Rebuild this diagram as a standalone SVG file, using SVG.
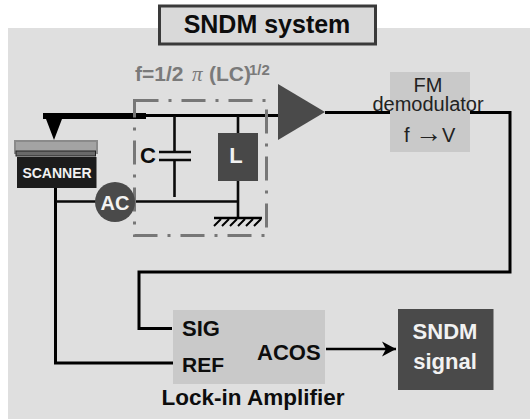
<svg xmlns="http://www.w3.org/2000/svg" width="530" height="419" viewBox="0 0 530 419">
<style>
text{font-family:"Liberation Sans",Arial,sans-serif;font-weight:bold;fill:#0d0d0d}
.w{fill:#f2f2f2}
.n{font-weight:normal;fill:#222}
.line{fill:none;stroke:#000;stroke-width:3}
.thin{fill:none;stroke:#0a0a0a;stroke-width:2.6}
</style>
<defs><marker id="ah" markerUnits="userSpaceOnUse" markerWidth="16" markerHeight="16" refX="14" refY="8" orient="auto"><path d="M0 0.500L14 8L0 15.500L4 8Z" fill="#000"/></marker></defs>
<rect x="0" y="0" width="530" height="419" fill="#fff"/>
<rect x="8" y="28" width="522" height="391" fill="#dfdfdf"/>
<g id="title"><rect x="159.500" y="6" width="216" height="38" fill="#d9d9d9" stroke="#3a3a3a" stroke-width="3"/><text x="267" y="33" font-size="25" text-anchor="middle">SNDM system</text></g>
<g id="formula"><text y="81" font-size="21" style="fill:#7a7a7a"><tspan x="135">f=1/2</tspan><tspan x="192" font-family="Liberation Serif" font-weight="normal" font-style="italic">π</tspan><tspan x="209">(LC)</tspan><tspan x="249" y="75" font-size="15">1/2</tspan></text></g>
<g id="connectors">
<path class="line" d="M145 115.500H278"/>
<path class="line" d="M325 112.500H391M470 112.500H510V272H139V328.500H172"/>
<path class="line" d="M55.500 188V363H174"/>
<path class="thin" d="M56 201.500H96M134 201.500H238M174.500 116V152M174.500 160V197M238 116V134M238 181V217"/>
<path class="thin" d="M159 152H191M159 160H191"/>
<path d="M214 218H262" stroke="#000" stroke-width="2.500" fill="none"/>
<path d="M221 219L214 226M229 219L222 226M237 219L230 226M245 219L238 226M253 219L246 226M261 219L254 226" stroke="#000" stroke-width="2" fill="none"/>
<path d="M326 349H396" fill="none" stroke="#000" stroke-width="2.500" marker-end="url(#ah)"/>
</g>
<g id="cantilever"><path d="M43 113H146V119H62L54 140L46 119H43Z" fill="#000"/></g>
<g id="lc-box"><rect x="134.500" y="100.500" width="132" height="135" fill="none" stroke="#777" stroke-width="3" stroke-dasharray="24 10 3 10"/></g>
<g id="amplifier"><path d="M278 84L325 112L278 140Z" fill="#4a4a4a"/></g>
<g id="fm-demodulator"><rect x="390" y="72" width="80" height="80" fill="#c9c9c9"/><text class="n" x="428" y="92" font-size="20" text-anchor="middle">FM</text><text class="n" x="428" y="111" font-size="20" text-anchor="middle">demodulator</text><text class="n" y="142" font-size="20"><tspan x="404">f</tspan><tspan x="415" font-size="27">→</tspan><tspan x="442">V</tspan></text></g>
<g id="scanner"><rect x="15" y="141" width="82" height="12" fill="#a3a3a3" stroke="#8a8a8a" stroke-width="2"/><rect x="16" y="151" width="79.500" height="5" fill="#6a6a6a" stroke="#222"/><rect x="17" y="157" width="79.500" height="31" fill="#1c1c1c"/><text class="w" x="57" y="178" font-size="14" text-anchor="middle">SCANNER</text></g>
<g id="ac"><circle cx="115" cy="202" r="20" fill="#4a4a4a"/><text class="w" x="115" y="210" font-size="20" text-anchor="middle">AC</text></g>
<g id="capacitor-label"><text x="140" y="163" font-size="22">C</text></g>
<g id="inductor"><rect x="218" y="133" width="40" height="48" fill="#484848"/><text class="w" x="236" y="163" font-size="22" text-anchor="middle">L</text></g>
<g id="lock-in"><rect x="173" y="310" width="152" height="74" fill="#c9c9c9"/><text x="182" y="336" font-size="22">SIG</text><text x="182" y="372" font-size="21">REF</text><text x="257" y="360" font-size="22">ACOS</text><text x="253" y="405" font-size="22.500" text-anchor="middle">Lock-in Amplifier</text></g>
<g id="sndm-signal"><rect x="398" y="309" width="95.500" height="81" fill="#4a4a4a"/><text class="w" x="445" y="339" font-size="22" text-anchor="middle">SNDM</text><text class="w" x="445" y="369" font-size="22" text-anchor="middle">signal</text></g>
</svg>
